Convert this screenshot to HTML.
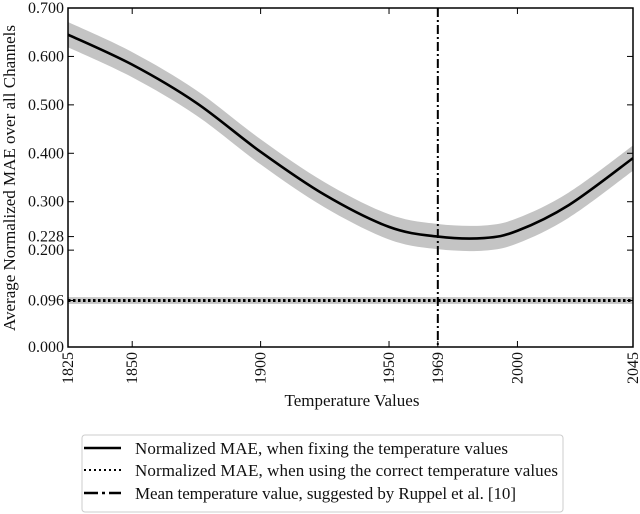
<!DOCTYPE html>
<html><head><meta charset="utf-8"><style>
body{margin:0;background:#fff;width:640px;height:514px;overflow:hidden}
text{font-family:"Liberation Serif",serif;fill:#111}
</style></head><body>
<svg id="c" width="640" height="514" style="position:absolute;left:0;top:0">
<g id="plot"></g>
</svg>
<script>
const years=[1825,1850,1875,1900,1925,1950,1969,1987,2000,2020,2045];
const maeValues=[0.645,0.583,0.504,0.403,0.314,0.248,0.228,0.225,0.240,0.293,0.390];
const bandHalf=0.026;
const correctMae=0.096;
const correctBand=0.007;
const meanTemp=1969;
const xTicks=[1825,1850,1900,1950,1969,2000,2045];
const yTicks=[0,0.096,0.2,0.228,0.3,0.4,0.5,0.6,0.7];
const yTickLabels=["0.000","0.096","0.200","0.228","0.300","0.400","0.500","0.600","0.700"];

const L=68,R=633,T=8,B=347;
const xs=v=>L+(v-1825)/(2045-1825)*(R-L);
const ys=v=>B-v/0.7*(B-T);
const NS="http://www.w3.org/2000/svg";
const g=document.getElementById('plot');
function mk(t,a,p){const e=document.createElementNS(NS,t);for(const k in a)e.setAttribute(k,a[k]);(p||g).appendChild(e);return e;}
function segs(pts){let d="";for(let i=0;i<pts.length-1;i++){const p0=pts[i-1]||pts[i],p1=pts[i],p2=pts[i+1],p3=pts[i+2]||p2;d+=" C"+(p1[0]+(p2[0]-p0[0])/6)+","+(p1[1]+(p2[1]-p0[1])/6)+" "+(p2[0]-(p3[0]-p1[0])/6)+","+(p2[1]-(p3[1]-p1[1])/6)+" "+p2[0]+","+p2[1];}return d;}
function smooth(pts){return "M"+pts[0][0]+","+pts[0][1]+segs(pts);}
const up=years.map((y,i)=>[xs(y),ys(maeValues[i]+bandHalf)]);
const lo=years.map((y,i)=>[xs(y),ys(maeValues[i]-bandHalf)]).reverse();
let band=mk('path',{d:smooth(up)+" L"+lo[0][0]+","+lo[0][1]+segs(lo)+"Z",fill:"#c4c4c4"});

let cb=mk('rect',{x:L,y:ys(correctMae+correctBand),width:R-L,height:ys(correctMae-correctBand)-ys(correctMae+correctBand),fill:"#c4c4c4"});

let line=mk('path',{d:smooth(years.map((y,i)=>[xs(y),ys(maeValues[i])])),fill:"none",stroke:"#000","stroke-width":2.6});

let dl=mk('line',{x1:L,x2:R,y1:ys(correctMae),y2:ys(correctMae),stroke:"#000","stroke-width":3,"stroke-dasharray":"2.5 2.5"});

let vl=mk('line',{x1:xs(meanTemp),x2:xs(meanTemp),y1:T,y2:B,stroke:"#000","stroke-width":2,"stroke-dasharray":"9 3 2 3"});

let fr=mk('rect',{x:L,y:T,width:R-L,height:B-T,fill:"none",stroke:"#000","stroke-width":1.5});

xTicks.forEach(v=>{const x=xs(v);
 mk('line',{x1:x,x2:x,y1:B,y2:B-6,stroke:"#000"});mk('line',{x1:x,x2:x,y1:T,y2:T+6,stroke:"#000"});
 const t=mk('text',{x:0,y:0,transform:`translate(${x+5},${B+5}) rotate(-90)`,"text-anchor":"end","font-size":16});t.textContent=v;
 });
yTicks.forEach((v,i)=>{const y=ys(v);
 mk('line',{x1:L,x2:L+6,y1:y,y2:y,stroke:"#000"});mk('line',{x1:R,x2:R-6,y1:y,y2:y,stroke:"#000"});
 const t=mk('text',{x:L-4,y:y+5,"text-anchor":"end","font-size":16});t.textContent=yTickLabels[i];
 });
</script>
<svg width="640" height="514" style="position:absolute;left:0;top:0">
<text x="352" y="406" text-anchor="middle" font-size="17">Temperature Values</text>
<text transform="translate(15,178) rotate(-90)" text-anchor="middle" font-size="17">Average Normalized MAE over all Channels</text>
<g>
<rect x="82" y="435" width="481" height="77" rx="3" fill="#fff" stroke="#ccc"/>
<line x1="84" y1="448" x2="121" y2="448" stroke="#000" stroke-width="2.5"/>
<text x="135" y="454" font-size="17" textLength="373">Normalized MAE, when fixing the temperature values</text>
<line x1="84" y1="470" x2="121" y2="470" stroke="#000" stroke-width="2" stroke-dasharray="2 3"/>
<text x="135" y="476" font-size="17" textLength="423">Normalized MAE, when using the correct temperature values</text>
<line x1="84" y1="493" x2="121" y2="493" stroke="#000" stroke-width="2.5" stroke-dasharray="14 4 3 4"/>
<text x="135" y="499" font-size="17" textLength="381">Mean temperature value, suggested by Ruppel et al. [10]</text>
</g>
</svg>
</body></html>
